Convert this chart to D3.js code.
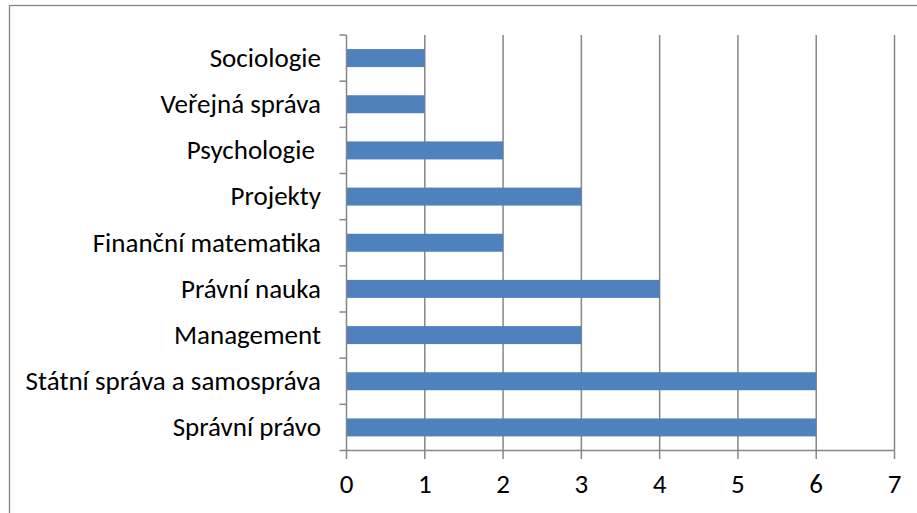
<!DOCTYPE html>
<html>
<head>
<meta charset="utf-8">
<script src="https://cdn.jsdelivr.net/npm/d3@7"></script>
<style>
  body { margin: 0; background: #fff; }
  svg text { font-family: Carlito, Calibri, "Open Sans", "Noto Sans", sans-serif; fill: #000; }
</style>
</head>
<body>
<svg id="chart" width="917" height="513"></svg>
<script>
// data, top to bottom as drawn
var categories = ['Sociologie', 'Veřejná správa', 'Psychologie ', 'Projekty', 'Finanční matematika',
                  'Právní nauka', 'Management', 'Státní správa a samospráva', 'Správní právo'];
var values = [1, 1, 2, 3, 2, 4, 3, 6, 6];
var xTicks = [0, 1, 2, 3, 4, 5, 6, 7];

var svg = d3.select('#chart');
var grey = '#868686';

// outer frame (right and bottom edges fall outside the picture)
svg.append('rect')
    .attr('x', 9.5).attr('y', 5.5)
    .attr('width', 920).attr('height', 520)
    .attr('fill', 'none').attr('stroke', grey).attr('stroke-width', 1.3);

var x = d3.scaleLinear().domain([0, 7]).range([346.5, 894.5]);
var y = d3.scaleBand().domain(categories).range([35, 450.5]).paddingInner(0.61).paddingOuter(0.305);

// gridlines
svg.append('g')
    .selectAll('line')
    .data(xTicks.slice(1))
    .enter().append('line')
    .attr('x1', function(d) { return x(d); })
    .attr('x2', function(d) { return x(d); })
    .attr('y1', 35).attr('y2', 450.5)
    .attr('stroke', grey).attr('stroke-width', 1.5);

// bars
svg.append('g')
    .selectAll('rect')
    .data(categories)
    .enter().append('rect')
    .attr('x', x(0))
    .attr('y', function(d) { return y(d); })
    .attr('width', function(d, i) { return x(values[i]) - x(0); })
    .attr('height', y.bandwidth())
    .attr('fill', '#4F81BD');

// category axis (ticks on band boundaries)
var bounds = d3.range(categories.length + 1).map(function(i) { return 35 + i * (450.5 - 35) / categories.length; });
var yAxis = svg.append('g');
yAxis.append('line')
    .attr('x1', x(0)).attr('x2', x(0)).attr('y1', 35).attr('y2', 450.5)
    .attr('stroke', grey).attr('stroke-width', 1.5);
yAxis.selectAll('line.tk')
    .data(bounds)
    .enter().append('line').attr('class', 'tk')
    .attr('x1', x(0) - 7).attr('x2', x(0))
    .attr('y1', function(d) { return d; }).attr('y2', function(d) { return d; })
    .attr('stroke', grey).attr('stroke-width', 1.5);
yAxis.selectAll('text')
    .data(categories)
    .enter().append('text')
    .attr('x', 321)
    .attr('y', function(d) { return y(d) + y.bandwidth() / 2; })
    .attr('dy', '0.33em')
    .attr('text-anchor', 'end')
    .attr('font-size', 27)
    .style('white-space', 'pre')
    .text(function(d) { return d; });

// value axis
var xAxis = svg.append('g');
xAxis.append('line')
    .attr('x1', x(0)).attr('x2', x(7)).attr('y1', 450.5).attr('y2', 450.5)
    .attr('stroke', grey).attr('stroke-width', 1.5);
xAxis.selectAll('line.tk')
    .data(xTicks)
    .enter().append('line').attr('class', 'tk')
    .attr('x1', function(d) { return x(d); }).attr('x2', function(d) { return x(d); })
    .attr('y1', 450.5).attr('y2', 459)
    .attr('stroke', grey).attr('stroke-width', 1.5);
xAxis.selectAll('text')
    .data(xTicks)
    .enter().append('text')
    .attr('x', function(d) { return x(d); })
    .attr('y', 493)
    .attr('text-anchor', 'middle')
    .attr('font-size', 27)
    .text(function(d) { return d; });
</script>
</body>
</html>
